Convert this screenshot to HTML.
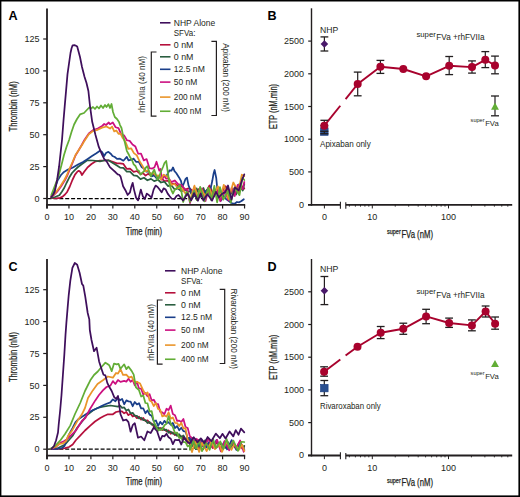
<!DOCTYPE html>
<html><head><meta charset="utf-8"><style>
html,body{margin:0;padding:0;background:#fff;}
svg{display:block;}
</style></head><body>
<svg width="520" height="497" viewBox="0 0 520 497" font-family='"Liberation Sans", sans-serif'>
<rect x="0" y="0" width="520" height="497" fill="#ffffff"/>
<text x="8.50" y="19.70" font-size="12.6" text-anchor="start" fill="#000" font-weight="bold" >A</text>
<line x1="47.50" y1="198.60" x2="205.00" y2="198.60" stroke="#000" stroke-width="1.3" stroke-dasharray="4 1.9"/>
<polyline points="51.30,198.00 56.50,198.40 60.00,197.80 62.30,196.90 65.00,194.50 66.90,192.30 69.80,186.50 72.40,180.00 75.00,174.60 77.50,171.50 78.80,170.80 80.50,172.00 82.00,175.00 84.00,172.00 87.30,167.70 91.50,164.00 95.70,161.30 100.00,160.70 104.00,160.50 108.40,160.30 112.00,161.50 116.90,163.40 120.00,163.28 123.40,163.90 126.80,168.94 130.00,168.61 133.70,171.93 137.00,171.00 140.50,174.21 143.00,173.08 145.60,175.61 148.00,173.85 150.80,175.12 154.00,174.72 157.60,177.39 161.00,177.51 164.40,181.00 168.00,180.85 171.30,183.85 174.70,183.54 178.10,186.40 181.50,185.36 185.00,189.68 188.00,188.48 190.00,188.67 194.57,192.37 199.73,188.43 204.64,194.31 209.50,185.46 212.88,193.39 217.38,187.99 220.81,193.23 225.67,186.26 230.38,193.44 235.40,186.74 238.76,192.54 242.56,186.35 244.30,188.60" fill="none" stroke="#b5103c" stroke-width="1.75" stroke-linejoin="round" stroke-linecap="round" />
<polyline points="51.30,197.80 55.00,197.00 59.40,195.20 62.00,191.50 64.00,188.30 66.50,183.00 69.10,177.80 72.00,173.00 75.00,169.80 78.00,167.00 82.00,164.00 87.30,160.30 93.00,160.50 100.00,161.30 104.00,160.50 108.40,160.30 112.00,162.50 116.90,165.50 120.00,167.56 123.40,167.94 126.80,171.74 130.00,171.60 133.70,175.30 137.00,175.96 140.50,179.16 144.00,177.74 147.40,180.29 151.00,178.85 154.20,181.16 158.00,179.77 161.00,182.51 164.50,181.67 167.90,186.09 171.30,185.17 174.70,189.51 178.00,188.53 181.50,191.28 185.00,189.50 187.50,191.87 190.00,191.19 193.00,197.23 196.61,188.34 200.20,197.03 203.45,187.96 206.14,195.95 209.56,190.20 213.92,196.38 218.38,187.47 221.61,199.05 226.12,189.00 228.84,197.72 232.93,190.13 236.10,194.58 239.35,183.93 242.80,190.55 244.30,184.00" fill="none" stroke="#2a5e40" stroke-width="1.75" stroke-linejoin="round" stroke-linecap="round" />
<polyline points="51.30,196.50 52.50,194.60 55.00,188.00 57.70,180.30 61.00,175.00 64.00,171.90 68.00,169.50 72.50,167.70 78.00,164.50 83.00,162.00 87.30,159.20 92.00,156.00 96.00,153.50 100.00,150.70 102.00,152.00 104.20,156.00 106.00,153.00 108.40,151.80 111.00,154.00 112.50,156.00 114.80,157.00 117.00,158.90 120.00,158.68 123.40,160.72 126.80,156.88 128.50,160.46 130.30,159.81 132.00,159.53 133.70,158.65 136.00,161.77 138.80,161.88 141.50,166.95 143.90,168.46 146.50,171.62 149.00,171.75 151.50,176.41 154.20,175.35 156.70,178.37 159.30,176.92 162.00,178.40 164.40,175.72 166.50,175.88 169.60,170.29 171.50,170.60 173.00,167.43 174.50,171.19 176.20,173.00 179.20,177.70 181.00,181.00 182.30,187.00 184.00,183.00 185.40,179.20 187.00,177.70 188.50,185.40 190.00,189.00 191.50,193.00 194.60,196.00 197.50,196.00 200.80,194.60 203.50,193.00 207.00,190.00 210.00,191.50 212.30,180.80 213.50,174.00 214.60,170.00 216.20,177.70 217.70,193.00 219.00,198.00 220.80,200.80 223.80,196.00 226.00,199.00 228.50,200.80 231.50,203.00 234.60,203.80 237.00,202.00 239.20,202.30 241.50,201.00 243.80,199.20" fill="none" stroke="#1a3f8a" stroke-width="1.75" stroke-linejoin="round" stroke-linecap="round" />
<polyline points="51.30,196.40 53.50,195.50 57.00,192.00 61.00,186.50 65.00,180.00 67.50,175.00 70.00,169.00 72.50,163.00 75.50,155.50 78.80,150.00 82.00,144.50 84.40,140.00 88.80,133.50 93.30,130.00 97.70,128.50 102.10,126.00 104.20,124.00 106.00,125.00 108.80,122.50 110.00,124.14 112.80,122.50 115.60,127.27 118.50,128.20 121.30,134.68 124.10,135.41 126.90,140.26 129.70,140.91 132.50,144.53 135.40,146.57 138.20,153.75 141.00,153.59 143.80,160.40 146.60,159.07 149.40,168.08 152.30,168.51 154.50,167.19 156.50,161.75 159.30,170.67 160.50,168.90 162.00,179.92 164.00,175.26 166.20,178.65 168.80,178.50 171.30,182.10 174.70,180.46 178.10,184.15 181.50,185.08 185.00,189.62 187.50,190.00 190.00,203.12 194.26,187.21 197.62,198.95 202.07,188.49 205.51,200.99 209.17,187.70 212.17,198.43 217.01,189.70 220.35,201.26 224.56,190.60 228.58,200.33 231.70,187.82 234.71,196.07 237.64,184.97 242.66,189.13 244.30,182.00" fill="none" stroke="#cc1080" stroke-width="1.75" stroke-linejoin="round" stroke-linecap="round" />
<polyline points="51.30,196.40 53.50,195.00 56.50,191.50 60.50,186.00 64.30,180.00 66.90,175.00 69.50,168.50 72.50,162.00 75.50,155.00 78.80,150.00 82.00,145.00 84.40,140.90 88.80,134.20 93.30,130.90 97.70,129.80 102.10,127.60 106.50,126.50 110.00,128.61 112.10,126.56 114.20,131.36 116.35,130.45 118.50,133.79 120.60,133.58 122.70,138.01 125.50,141.70 128.30,148.78 131.10,148.30 133.90,153.12 136.80,155.39 139.60,161.27 142.40,165.65 145.20,171.43 148.00,170.43 150.80,174.19 153.00,172.53 155.90,175.69 158.50,175.39 161.00,179.63 163.50,174.72 166.20,176.07 168.50,177.68 171.30,184.96 174.50,184.00 178.10,188.20 181.50,188.00 185.00,193.06 187.50,192.63 190.00,200.30 194.44,185.67 197.69,196.81 200.84,188.76 205.40,196.09 209.48,188.60 212.98,197.47 217.80,186.34 220.63,196.47 223.78,184.82 228.53,199.03 233.31,182.49 238.39,191.74 241.80,174.66 244.30,176.00" fill="none" stroke="#ea952a" stroke-width="1.75" stroke-linejoin="round" stroke-linecap="round" />
<polyline points="51.30,195.00 54.00,188.00 57.10,180.00 58.80,175.00 61.50,165.00 64.00,155.00 66.50,147.00 69.10,140.00 71.50,132.00 74.10,124.50 77.00,119.00 80.00,114.40 84.00,113.00 87.30,109.50 89.40,107.40 91.00,108.50 93.00,107.00 95.00,109.00 97.00,106.50 99.00,108.50 101.00,105.50 103.00,108.00 105.00,105.00 106.50,107.00 108.40,104.20 110.00,108.00 111.50,104.00 113.00,112.00 114.80,117.00 117.00,119.00 119.00,122.00 120.00,125.10 121.50,128.00 123.40,137.10 125.00,143.00 126.80,150.80 128.50,154.00 130.30,157.60 132.00,160.00 133.70,164.40 135.50,166.00 137.10,169.60 139.00,171.00 140.50,174.70 142.00,173.00 143.90,171.30 145.50,168.00 147.40,166.20 149.00,171.00 150.80,176.40 152.50,173.00 154.20,169.60 156.00,175.00 157.60,179.80 159.50,176.00 161.00,171.30 163.00,167.00 164.50,163.00 166.20,161.00 167.50,170.00 169.60,185.00 171.30,190.00 173.00,193.50 174.60,190.00 176.40,188.40 178.00,187.00 179.80,185.00 181.50,192.00 183.20,202.00 185.00,197.00 186.70,191.80 188.50,194.00 190.00,202.00 194.18,190.92 196.86,200.18 200.15,186.87 204.38,201.33 208.32,187.55 211.31,200.22 214.34,185.97 217.13,202.29 219.96,187.12 223.39,199.72 227.97,190.84 230.77,202.53 234.59,187.73 239.50,195.19 242.42,177.96 244.30,180.00" fill="none" stroke="#62ad36" stroke-width="1.75" stroke-linejoin="round" stroke-linecap="round" />
<polyline points="51.30,197.00 53.00,195.00 54.80,191.70 57.10,180.00 59.10,166.50 62.00,140.00 63.50,120.50 64.70,106.40 66.10,90.30 67.50,74.20 69.50,60.00 70.50,53.00 71.50,48.50 72.60,45.30 74.50,45.20 75.50,45.50 77.20,46.50 80.00,57.00 82.00,67.00 84.50,76.70 86.50,83.00 88.40,91.00 90.00,106.00 92.20,121.82 95.50,135.06 98.80,146.94 102.10,154.68 104.30,159.04 106.50,161.16 109.90,167.14 113.20,170.17 115.60,172.28 117.70,174.35 119.20,174.74 120.60,176.63 123.10,186.29 125.40,190.21 127.60,194.99 130.00,192.30 131.30,186.90 132.70,182.90 134.00,189.60 136.10,197.70 138.10,200.40 140.80,189.60 142.80,196.30 144.80,199.00 146.80,193.60 148.80,195.00 151.50,197.70 153.60,189.60 155.60,185.60 157.60,186.90 159.60,189.60 161.60,192.30 163.60,188.30 165.70,189.60 167.70,193.60 169.50,196.00 171.50,198.50 174.40,199.00 176.50,196.00 178.50,195.00 181.80,199.00 183.00,200.57 187.52,193.55 191.13,200.33 194.05,193.14 197.93,200.72 200.66,193.54 203.37,200.55 207.39,194.12 212.03,200.70 215.96,191.90 218.82,197.34 222.49,193.44 225.42,191.93 228.00,185.47 231.47,199.51 235.11,187.28 238.71,190.51 242.22,179.57 244.30,174.30" fill="none" stroke="#3f0f5c" stroke-width="1.75" stroke-linejoin="round" stroke-linecap="round" />
<line x1="47.00" y1="8.40" x2="47.00" y2="208.50" stroke="#231f20" stroke-width="1.8" />
<line x1="46.10" y1="204.90" x2="245.20" y2="204.90" stroke="#231f20" stroke-width="1.9" />
<line x1="43.20" y1="198.50" x2="47.00" y2="198.50" stroke="#231f20" stroke-width="1.2" />
<text x="39.60" y="201.60" font-size="9.0" text-anchor="end" fill="#231f20" >0</text>
<line x1="43.20" y1="166.60" x2="47.00" y2="166.60" stroke="#231f20" stroke-width="1.2" />
<text x="39.60" y="169.70" font-size="9.0" text-anchor="end" fill="#231f20" >25</text>
<line x1="43.20" y1="134.70" x2="47.00" y2="134.70" stroke="#231f20" stroke-width="1.2" />
<text x="39.60" y="137.80" font-size="9.0" text-anchor="end" fill="#231f20" >50</text>
<line x1="43.20" y1="102.80" x2="47.00" y2="102.80" stroke="#231f20" stroke-width="1.2" />
<text x="39.60" y="105.90" font-size="9.0" text-anchor="end" fill="#231f20" >75</text>
<line x1="43.20" y1="70.90" x2="47.00" y2="70.90" stroke="#231f20" stroke-width="1.2" />
<text x="39.60" y="74.00" font-size="9.0" text-anchor="end" fill="#231f20" >100</text>
<line x1="43.20" y1="39.00" x2="47.00" y2="39.00" stroke="#231f20" stroke-width="1.2" />
<text x="39.60" y="42.10" font-size="9.0" text-anchor="end" fill="#231f20" >125</text>
<line x1="47.00" y1="204.90" x2="47.00" y2="208.50" stroke="#231f20" stroke-width="1.2" />
<text x="47.00" y="219.80" font-size="9.0" text-anchor="middle" fill="#231f20" >0</text>
<line x1="68.95" y1="204.90" x2="68.95" y2="208.50" stroke="#231f20" stroke-width="1.2" />
<text x="68.95" y="219.80" font-size="9.0" text-anchor="middle" fill="#231f20" >10</text>
<line x1="90.90" y1="204.90" x2="90.90" y2="208.50" stroke="#231f20" stroke-width="1.2" />
<text x="90.90" y="219.80" font-size="9.0" text-anchor="middle" fill="#231f20" >20</text>
<line x1="112.85" y1="204.90" x2="112.85" y2="208.50" stroke="#231f20" stroke-width="1.2" />
<text x="112.85" y="219.80" font-size="9.0" text-anchor="middle" fill="#231f20" >30</text>
<line x1="134.80" y1="204.90" x2="134.80" y2="208.50" stroke="#231f20" stroke-width="1.2" />
<text x="134.80" y="219.80" font-size="9.0" text-anchor="middle" fill="#231f20" >40</text>
<line x1="156.75" y1="204.90" x2="156.75" y2="208.50" stroke="#231f20" stroke-width="1.2" />
<text x="156.75" y="219.80" font-size="9.0" text-anchor="middle" fill="#231f20" >50</text>
<line x1="178.70" y1="204.90" x2="178.70" y2="208.50" stroke="#231f20" stroke-width="1.2" />
<text x="178.70" y="219.80" font-size="9.0" text-anchor="middle" fill="#231f20" >60</text>
<line x1="200.65" y1="204.90" x2="200.65" y2="208.50" stroke="#231f20" stroke-width="1.2" />
<text x="200.65" y="219.80" font-size="9.0" text-anchor="middle" fill="#231f20" >70</text>
<line x1="222.60" y1="204.90" x2="222.60" y2="208.50" stroke="#231f20" stroke-width="1.2" />
<text x="222.60" y="219.80" font-size="9.0" text-anchor="middle" fill="#231f20" >80</text>
<line x1="244.55" y1="204.90" x2="244.55" y2="208.50" stroke="#231f20" stroke-width="1.2" />
<text x="244.55" y="219.80" font-size="9.0" text-anchor="middle" fill="#231f20" >90</text>
<text x="144.00" y="234.70" font-size="10.5" text-anchor="middle" fill="#231f20" textLength="36.30" lengthAdjust="spacingAndGlyphs" stroke="#231f20" stroke-width="0.25">Time (min)</text>
<text x="17.30" y="131.40" font-size="10.8" text-anchor="start" fill="#231f20" textLength="50.10" lengthAdjust="spacingAndGlyphs" transform="rotate(-90 17.30 131.40)" stroke="#231f20" stroke-width="0.25">Thrombin (nM)</text>
<line x1="160.00" y1="22.80" x2="170.50" y2="22.80" stroke="#3f0f5c" stroke-width="1.6" />
<text x="173.80" y="25.70" font-size="8.6" text-anchor="start" fill="#231f20" textLength="41.40" lengthAdjust="spacingAndGlyphs" >NHP Alone</text>
<line x1="160.00" y1="44.80" x2="170.50" y2="44.80" stroke="#b5103c" stroke-width="1.6" />
<text x="173.80" y="47.70" font-size="8.6" text-anchor="start" fill="#231f20" textLength="19.60" lengthAdjust="spacingAndGlyphs" >0 nM</text>
<line x1="160.00" y1="56.80" x2="170.50" y2="56.80" stroke="#2a5e40" stroke-width="1.6" />
<text x="173.80" y="59.70" font-size="8.6" text-anchor="start" fill="#231f20" textLength="19.60" lengthAdjust="spacingAndGlyphs" >0 nM</text>
<line x1="160.00" y1="69.30" x2="170.50" y2="69.30" stroke="#1a3f8a" stroke-width="1.6" />
<text x="173.80" y="72.20" font-size="8.6" text-anchor="start" fill="#231f20" textLength="31.00" lengthAdjust="spacingAndGlyphs" >12.5 nM</text>
<line x1="160.00" y1="82.10" x2="170.50" y2="82.10" stroke="#cc1080" stroke-width="1.6" />
<text x="173.80" y="85.00" font-size="8.6" text-anchor="start" fill="#231f20" textLength="23.50" lengthAdjust="spacingAndGlyphs" >50 nM</text>
<line x1="160.00" y1="97.10" x2="170.50" y2="97.10" stroke="#ea952a" stroke-width="1.6" />
<text x="173.80" y="100.00" font-size="8.6" text-anchor="start" fill="#231f20" textLength="27.50" lengthAdjust="spacingAndGlyphs" >200 nM</text>
<line x1="160.00" y1="111.25" x2="170.50" y2="111.25" stroke="#62ad36" stroke-width="1.6" />
<text x="173.80" y="114.15" font-size="8.6" text-anchor="start" fill="#231f20" textLength="27.50" lengthAdjust="spacingAndGlyphs" >400 nM</text>
<text x="173.80" y="36.20" font-size="8.6" text-anchor="start" fill="#231f20" textLength="21.60" lengthAdjust="spacingAndGlyphs" >SFVa:</text>
<polyline points="156.50,52.00 151.30,52.00 151.30,116.20 156.50,116.20" fill="none" stroke="#231f20" stroke-width="1.2"/>
<polyline points="211.40,41.30 216.40,41.30 216.40,115.50 211.40,115.50" fill="none" stroke="#231f20" stroke-width="1.2"/>
<text x="144.90" y="112.70" font-size="8.6" text-anchor="start" fill="#231f20" textLength="56.70" lengthAdjust="spacingAndGlyphs" transform="rotate(-90 144.90 112.70)" >rhFVIIa (40 nM)</text>
<text x="223.00" y="43.20" font-size="8.6" text-anchor="start" fill="#231f20" textLength="68.80" lengthAdjust="spacingAndGlyphs" transform="rotate(90 223.00 43.20)" >Apixaban (200 nM)</text>
<text x="8.40" y="270.60" font-size="12.6" text-anchor="start" fill="#000" font-weight="bold" >C</text>
<line x1="47.50" y1="449.10" x2="204.00" y2="449.10" stroke="#000" stroke-width="1.3" stroke-dasharray="4 1.9"/>
<polyline points="50.50,449.00 52.00,449.00 58.00,449.00 65.10,448.20 69.00,447.00 72.70,444.50 76.00,440.00 80.20,435.70 85.00,430.50 90.30,425.60 95.00,421.50 100.30,418.00 104.00,416.00 107.90,414.30 112.90,414.30 116.00,412.00 119.20,411.35 122.00,411.31 124.15,413.32 126.30,411.99 128.43,415.16 130.57,413.63 132.70,416.53 134.80,415.38 136.90,418.18 139.00,416.64 141.13,419.67 143.27,417.96 145.40,421.13 147.50,420.29 149.60,423.21 151.70,423.39 153.83,426.61 155.97,426.17 158.10,429.34 160.20,427.80 162.30,430.11 164.40,429.03 166.50,431.48 168.60,430.34 170.70,433.73 172.83,432.46 174.97,435.08 177.10,433.38 179.20,436.58 181.30,436.25 183.40,439.38 185.53,438.79 187.67,442.77 189.80,441.52 190.00,448.97 194.85,441.78 199.31,448.39 201.97,442.57 205.19,448.17 208.84,442.85 212.74,447.96 217.28,442.05 220.73,448.63 225.42,443.54 228.36,448.07 232.76,443.37 235.84,448.68 239.24,442.67 242.29,448.54 244.30,446.00" fill="none" stroke="#b5103c" stroke-width="1.75" stroke-linejoin="round" stroke-linecap="round" />
<polyline points="50.50,449.00 52.00,449.00 58.00,448.00 65.10,444.50 69.00,440.00 72.70,435.70 77.00,428.00 82.70,420.60 87.00,415.00 92.80,410.50 97.50,408.00 102.90,406.70 110.40,405.50 118.00,406.62 120.00,405.52 122.10,407.81 124.20,407.45 126.30,410.42 128.43,409.44 130.57,413.39 132.70,412.86 134.80,415.73 136.90,415.79 139.00,418.38 141.13,417.75 143.27,420.24 145.40,420.14 147.50,423.00 149.60,421.91 151.70,424.68 153.83,424.33 155.97,428.10 158.10,427.74 160.20,429.86 162.30,427.75 164.40,430.11 166.50,429.72 168.60,432.82 170.70,431.60 172.83,433.68 174.97,433.32 177.10,435.94 179.20,434.22 181.30,437.30 183.40,435.48 185.53,439.11 187.67,438.03 189.80,441.75 190.00,439.20 194.13,448.26 197.27,439.87 201.02,448.17 205.17,440.27 208.28,447.32 212.35,441.54 216.49,447.62 221.07,443.54 225.15,447.97 227.73,441.85 230.36,447.76 233.58,443.58 236.45,447.51 240.80,444.06 243.67,447.79 244.30,446.00" fill="none" stroke="#2a5e40" stroke-width="1.75" stroke-linejoin="round" stroke-linecap="round" />
<polyline points="51.30,449.00 57.00,448.80 62.00,448.00 64.50,446.00 66.00,441.90 68.90,434.60 72.50,428.10 75.40,422.30 78.00,419.50 81.20,417.20 84.00,415.50 87.80,413.00 93.00,410.00 97.80,408.00 101.50,406.00 105.40,404.20 110.40,402.42 112.90,399.32 115.40,401.28 118.00,398.13 120.00,400.29 122.10,398.87 124.20,404.26 126.35,400.37 128.50,401.39 130.60,401.52 132.70,406.23 134.80,401.98 136.90,404.40 139.00,403.18 141.10,408.43 143.25,408.27 145.40,413.27 147.50,410.43 149.60,414.64 151.70,415.79 153.80,421.25 155.95,420.48 158.10,425.85 160.20,421.87 162.30,424.34 164.40,420.85 166.50,423.14 168.60,422.21 170.70,424.75 172.85,422.94 175.00,428.05 177.10,426.03 179.20,430.23 181.30,427.79 183.40,431.12 185.55,431.52 187.70,438.26 189.80,437.75 191.90,444.71 192.00,437.81 196.58,448.87 201.25,440.01 206.08,447.57 209.44,441.54 213.26,446.93 216.55,439.93 220.98,449.71 223.83,442.50 227.08,449.28 231.65,440.07 236.44,449.96 240.55,442.56 243.93,448.90 244.30,450.00" fill="none" stroke="#1a3f8a" stroke-width="1.75" stroke-linejoin="round" stroke-linecap="round" />
<polyline points="51.30,449.00 55.00,447.50 60.90,442.50 63.80,441.20 67.40,439.00 71.00,435.40 76.10,430.30 81.90,421.00 85.30,418.00 90.00,409.00 95.30,400.40 99.00,395.00 102.90,390.40 106.50,387.00 110.40,385.62 112.90,381.08 115.40,383.95 117.95,380.05 120.50,381.89 124.20,380.87 126.35,381.64 128.50,378.80 130.60,381.72 132.70,379.99 134.80,385.33 136.90,381.76 139.00,388.47 141.10,388.68 143.25,394.34 145.40,393.03 147.50,396.36 149.60,394.19 151.70,400.50 153.80,399.72 155.95,403.76 158.10,404.05 160.20,411.73 162.30,412.42 164.40,414.27 166.50,408.76 168.60,410.04 170.70,405.62 172.85,414.05 175.00,415.25 177.10,420.92 179.20,420.65 181.30,422.08 183.40,418.93 185.55,427.06 187.70,428.03 189.80,436.12 191.90,437.95 194.00,441.93 196.10,438.78 200.00,441.02 204.40,447.65 208.44,438.34 213.05,447.66 217.09,439.89 220.79,451.30 224.56,440.96 229.24,450.29 232.50,441.90 236.19,448.14 240.13,440.44 243.67,451.84 244.30,450.00" fill="none" stroke="#cc1080" stroke-width="1.75" stroke-linejoin="round" stroke-linecap="round" />
<polyline points="51.30,448.50 56.00,446.50 59.40,443.80 63.10,443.30 66.00,441.20 67.40,437.50 68.90,434.60 71.80,431.00 74.70,425.90 78.30,419.40 81.90,414.30 85.00,408.00 88.00,398.00 92.80,390.40 97.50,384.00 102.90,380.30 107.90,376.50 112.90,377.68 116.00,372.96 118.00,373.66 120.50,369.01 123.00,374.84 126.30,374.66 128.95,377.65 131.60,376.58 134.25,381.89 136.90,381.83 140.10,383.58 143.30,390.53 145.40,394.30 147.50,392.34 149.60,400.61 151.70,401.83 153.80,406.09 155.90,403.07 158.05,409.00 160.20,409.89 162.30,416.40 164.40,415.43 166.50,416.56 168.60,412.26 170.75,418.62 172.90,417.46 175.00,422.78 177.10,423.13 179.20,425.98 181.30,422.75 183.40,428.52 185.50,428.11 187.65,439.67 189.80,443.27 192.00,452.11 195.35,441.39 199.14,451.91 202.03,442.92 206.61,451.14 211.43,441.46 214.93,449.10 219.32,444.41 222.00,451.95 226.58,441.64 231.41,449.89 234.26,444.43 239.15,449.54 242.17,444.82 244.30,451.00" fill="none" stroke="#ea952a" stroke-width="1.75" stroke-linejoin="round" stroke-linecap="round" />
<polyline points="50.50,449.00 51.30,448.20 55.00,446.00 60.10,440.70 65.00,434.00 70.20,425.60 75.00,414.00 80.20,403.00 85.00,391.00 90.30,380.30 94.00,375.00 97.80,371.50 101.50,367.00 105.40,362.70 107.50,364.00 109.20,365.20 111.70,371.21 114.00,363.61 116.70,364.41 118.50,363.84 120.50,368.80 124.20,364.31 126.35,369.15 128.50,366.69 131.60,370.87 133.70,374.56 135.90,387.26 139.00,390.19 141.15,396.54 143.30,395.55 145.40,403.01 147.50,403.39 149.60,411.55 151.70,411.11 153.80,421.68 155.90,425.84 158.05,430.77 160.20,429.32 162.30,429.70 164.40,425.26 166.50,423.88 168.60,416.07 170.75,423.85 172.90,427.10 175.00,432.97 177.10,432.57 179.20,437.88 181.30,437.90 183.40,442.22 185.50,442.16 187.65,446.43 189.80,445.12 190.00,449.78 193.37,440.77 196.19,448.64 199.21,440.35 202.05,451.18 206.00,442.85 209.67,449.80 213.09,439.09 215.81,447.88 220.36,441.46 223.31,449.05 226.61,439.01 229.59,448.46 233.37,440.61 237.95,450.93 241.24,441.91 244.30,442.00" fill="none" stroke="#62ad36" stroke-width="1.75" stroke-linejoin="round" stroke-linecap="round" />
<polyline points="51.30,449.00 54.00,446.00 56.10,440.20 58.00,432.50 58.70,424.50 60.20,410.00 61.50,395.00 62.90,375.00 64.30,355.00 65.50,335.00 66.40,322.60 67.60,308.10 68.70,295.30 70.30,280.80 72.40,267.90 74.80,263.00 77.20,264.70 79.60,272.70 82.00,284.00 83.30,285.60 85.30,296.90 87.70,313.00 89.30,319.40 89.80,330.00 91.50,340.00 94.00,351.19 96.60,347.70 99.10,361.44 101.60,369.22 103.50,374.72 105.40,375.35 107.30,382.86 109.20,386.71 111.70,391.03 114.20,397.16 116.10,398.87 118.00,395.95 120.50,414.27 123.20,420.53 126.30,419.58 128.45,422.14 130.60,431.69 132.70,425.18 134.80,423.23 138.00,437.70 141.10,436.54 144.30,440.25 147.50,431.42 150.70,433.04 153.80,427.54 157.00,431.02 160.20,440.47 162.30,435.77 164.40,436.38 166.50,433.77 168.60,437.35 170.75,438.78 172.90,444.11 175.00,439.76 177.10,440.16 179.20,439.95 181.30,444.51 184.00,437.17 186.00,440.26 189.64,443.59 193.72,437.26 197.39,442.36 200.85,438.32 204.62,442.96 207.58,437.02 211.46,441.06 215.79,433.58 219.89,438.20 222.42,433.83 225.54,438.49 229.60,431.46 233.29,436.36 235.74,430.14 238.55,434.74 240.95,428.60 244.30,432.30" fill="none" stroke="#3f0f5c" stroke-width="1.75" stroke-linejoin="round" stroke-linecap="round" />
<line x1="47.00" y1="259.10" x2="47.00" y2="459.20" stroke="#231f20" stroke-width="1.8" />
<line x1="46.10" y1="455.60" x2="245.20" y2="455.60" stroke="#231f20" stroke-width="1.9" />
<line x1="43.20" y1="449.20" x2="47.00" y2="449.20" stroke="#231f20" stroke-width="1.2" />
<text x="39.60" y="452.30" font-size="9.0" text-anchor="end" fill="#231f20" >0</text>
<line x1="43.20" y1="417.30" x2="47.00" y2="417.30" stroke="#231f20" stroke-width="1.2" />
<text x="39.60" y="420.40" font-size="9.0" text-anchor="end" fill="#231f20" >25</text>
<line x1="43.20" y1="385.40" x2="47.00" y2="385.40" stroke="#231f20" stroke-width="1.2" />
<text x="39.60" y="388.50" font-size="9.0" text-anchor="end" fill="#231f20" >50</text>
<line x1="43.20" y1="353.50" x2="47.00" y2="353.50" stroke="#231f20" stroke-width="1.2" />
<text x="39.60" y="356.60" font-size="9.0" text-anchor="end" fill="#231f20" >75</text>
<line x1="43.20" y1="321.60" x2="47.00" y2="321.60" stroke="#231f20" stroke-width="1.2" />
<text x="39.60" y="324.70" font-size="9.0" text-anchor="end" fill="#231f20" >100</text>
<line x1="43.20" y1="289.70" x2="47.00" y2="289.70" stroke="#231f20" stroke-width="1.2" />
<text x="39.60" y="292.80" font-size="9.0" text-anchor="end" fill="#231f20" >125</text>
<line x1="47.00" y1="455.60" x2="47.00" y2="459.20" stroke="#231f20" stroke-width="1.2" />
<text x="47.00" y="470.50" font-size="9.0" text-anchor="middle" fill="#231f20" >0</text>
<line x1="68.95" y1="455.60" x2="68.95" y2="459.20" stroke="#231f20" stroke-width="1.2" />
<text x="68.95" y="470.50" font-size="9.0" text-anchor="middle" fill="#231f20" >10</text>
<line x1="90.90" y1="455.60" x2="90.90" y2="459.20" stroke="#231f20" stroke-width="1.2" />
<text x="90.90" y="470.50" font-size="9.0" text-anchor="middle" fill="#231f20" >20</text>
<line x1="112.85" y1="455.60" x2="112.85" y2="459.20" stroke="#231f20" stroke-width="1.2" />
<text x="112.85" y="470.50" font-size="9.0" text-anchor="middle" fill="#231f20" >30</text>
<line x1="134.80" y1="455.60" x2="134.80" y2="459.20" stroke="#231f20" stroke-width="1.2" />
<text x="134.80" y="470.50" font-size="9.0" text-anchor="middle" fill="#231f20" >40</text>
<line x1="156.75" y1="455.60" x2="156.75" y2="459.20" stroke="#231f20" stroke-width="1.2" />
<text x="156.75" y="470.50" font-size="9.0" text-anchor="middle" fill="#231f20" >50</text>
<line x1="178.70" y1="455.60" x2="178.70" y2="459.20" stroke="#231f20" stroke-width="1.2" />
<text x="178.70" y="470.50" font-size="9.0" text-anchor="middle" fill="#231f20" >60</text>
<line x1="200.65" y1="455.60" x2="200.65" y2="459.20" stroke="#231f20" stroke-width="1.2" />
<text x="200.65" y="470.50" font-size="9.0" text-anchor="middle" fill="#231f20" >70</text>
<line x1="222.60" y1="455.60" x2="222.60" y2="459.20" stroke="#231f20" stroke-width="1.2" />
<text x="222.60" y="470.50" font-size="9.0" text-anchor="middle" fill="#231f20" >80</text>
<line x1="244.55" y1="455.60" x2="244.55" y2="459.20" stroke="#231f20" stroke-width="1.2" />
<text x="244.55" y="470.50" font-size="9.0" text-anchor="middle" fill="#231f20" >90</text>
<text x="144.00" y="485.40" font-size="10.5" text-anchor="middle" fill="#231f20" textLength="36.30" lengthAdjust="spacingAndGlyphs" stroke="#231f20" stroke-width="0.25">Time (min)</text>
<text x="17.30" y="382.10" font-size="10.8" text-anchor="start" fill="#231f20" textLength="50.10" lengthAdjust="spacingAndGlyphs" transform="rotate(-90 17.30 382.10)" stroke="#231f20" stroke-width="0.25">Thrombin (nM)</text>
<line x1="165.00" y1="270.80" x2="175.50" y2="270.80" stroke="#3f0f5c" stroke-width="1.6" />
<text x="181.10" y="273.70" font-size="8.6" text-anchor="start" fill="#231f20" textLength="41.40" lengthAdjust="spacingAndGlyphs" >NHP Alone</text>
<line x1="165.00" y1="292.80" x2="175.50" y2="292.80" stroke="#b5103c" stroke-width="1.6" />
<text x="181.10" y="295.70" font-size="8.6" text-anchor="start" fill="#231f20" textLength="19.60" lengthAdjust="spacingAndGlyphs" >0 nM</text>
<line x1="165.00" y1="304.80" x2="175.50" y2="304.80" stroke="#2a5e40" stroke-width="1.6" />
<text x="181.10" y="307.70" font-size="8.6" text-anchor="start" fill="#231f20" textLength="19.60" lengthAdjust="spacingAndGlyphs" >0 nM</text>
<line x1="165.00" y1="317.30" x2="175.50" y2="317.30" stroke="#1a3f8a" stroke-width="1.6" />
<text x="181.10" y="320.20" font-size="8.6" text-anchor="start" fill="#231f20" textLength="31.00" lengthAdjust="spacingAndGlyphs" >12.5 nM</text>
<line x1="165.00" y1="330.10" x2="175.50" y2="330.10" stroke="#cc1080" stroke-width="1.6" />
<text x="181.10" y="333.00" font-size="8.6" text-anchor="start" fill="#231f20" textLength="23.50" lengthAdjust="spacingAndGlyphs" >50 nM</text>
<line x1="165.00" y1="345.10" x2="175.50" y2="345.10" stroke="#ea952a" stroke-width="1.6" />
<text x="181.10" y="348.00" font-size="8.6" text-anchor="start" fill="#231f20" textLength="27.50" lengthAdjust="spacingAndGlyphs" >200 nM</text>
<line x1="165.00" y1="359.25" x2="175.50" y2="359.25" stroke="#62ad36" stroke-width="1.6" />
<text x="181.10" y="362.15" font-size="8.6" text-anchor="start" fill="#231f20" textLength="27.50" lengthAdjust="spacingAndGlyphs" >400 nM</text>
<text x="181.10" y="284.20" font-size="8.6" text-anchor="start" fill="#231f20" textLength="21.60" lengthAdjust="spacingAndGlyphs" >SFVa:</text>
<polyline points="162.60,300.00 157.40,300.00 157.40,364.20 162.60,364.20" fill="none" stroke="#231f20" stroke-width="1.2"/>
<polyline points="219.70,289.30 224.70,289.30 224.70,363.50 219.70,363.50" fill="none" stroke="#231f20" stroke-width="1.2"/>
<text x="154.00" y="360.70" font-size="8.6" text-anchor="start" fill="#231f20" textLength="56.70" lengthAdjust="spacingAndGlyphs" transform="rotate(-90 154.00 360.70)" >rhFVIIa (40 nM)</text>
<text x="230.60" y="288.60" font-size="8.6" text-anchor="start" fill="#231f20" textLength="80.30" lengthAdjust="spacingAndGlyphs" transform="rotate(90 230.60 288.60)" >Rivaroxaban (200 nM)</text>
<text x="267.40" y="19.60" font-size="12.6" text-anchor="start" fill="#000" font-weight="bold" >B</text>
<line x1="311.50" y1="8.30" x2="311.50" y2="205.75" stroke="#231f20" stroke-width="1.4" />
<line x1="308.20" y1="204.60" x2="311.50" y2="204.60" stroke="#231f20" stroke-width="1.2" />
<text x="304.00" y="207.70" font-size="9.0" text-anchor="end" fill="#231f20" >0</text>
<line x1="308.20" y1="171.90" x2="311.50" y2="171.90" stroke="#231f20" stroke-width="1.2" />
<text x="304.00" y="175.00" font-size="9.0" text-anchor="end" fill="#231f20" >500</text>
<line x1="308.20" y1="139.20" x2="311.50" y2="139.20" stroke="#231f20" stroke-width="1.2" />
<text x="304.00" y="142.30" font-size="9.0" text-anchor="end" fill="#231f20" >1000</text>
<line x1="308.20" y1="106.50" x2="311.50" y2="106.50" stroke="#231f20" stroke-width="1.2" />
<text x="304.00" y="109.60" font-size="9.0" text-anchor="end" fill="#231f20" >1500</text>
<line x1="308.20" y1="73.80" x2="311.50" y2="73.80" stroke="#231f20" stroke-width="1.2" />
<text x="304.00" y="76.90" font-size="9.0" text-anchor="end" fill="#231f20" >2000</text>
<line x1="308.20" y1="41.10" x2="311.50" y2="41.10" stroke="#231f20" stroke-width="1.2" />
<text x="304.00" y="44.20" font-size="9.0" text-anchor="end" fill="#231f20" >2500</text>
<line x1="308.00" y1="204.85" x2="340.40" y2="204.85" stroke="#231f20" stroke-width="1.9" />
<line x1="340.40" y1="201.65" x2="340.40" y2="208.65" stroke="#231f20" stroke-width="1.1" />
<line x1="324.40" y1="204.85" x2="324.40" y2="208.45" stroke="#231f20" stroke-width="1" />
<text x="324.40" y="219.80" font-size="9.0" text-anchor="middle" fill="#231f20" >0</text>
<line x1="345.80" y1="204.85" x2="512.20" y2="204.85" stroke="#231f20" stroke-width="1.9" />
<line x1="345.80" y1="202.25" x2="345.80" y2="208.65" stroke="#231f20" stroke-width="1.1" />
<line x1="349.36" y1="204.85" x2="349.36" y2="206.65" stroke="#231f20" stroke-width="0.9" />
<line x1="355.40" y1="204.85" x2="355.40" y2="206.65" stroke="#231f20" stroke-width="0.9" />
<line x1="360.50" y1="204.85" x2="360.50" y2="206.65" stroke="#231f20" stroke-width="0.9" />
<line x1="364.92" y1="204.85" x2="364.92" y2="206.65" stroke="#231f20" stroke-width="0.9" />
<line x1="368.81" y1="204.85" x2="368.81" y2="206.65" stroke="#231f20" stroke-width="0.9" />
<line x1="395.24" y1="204.85" x2="395.24" y2="206.65" stroke="#231f20" stroke-width="0.9" />
<line x1="408.66" y1="204.85" x2="408.66" y2="206.65" stroke="#231f20" stroke-width="0.9" />
<line x1="418.18" y1="204.85" x2="418.18" y2="206.65" stroke="#231f20" stroke-width="0.9" />
<line x1="425.56" y1="204.85" x2="425.56" y2="206.65" stroke="#231f20" stroke-width="0.9" />
<line x1="431.60" y1="204.85" x2="431.60" y2="206.65" stroke="#231f20" stroke-width="0.9" />
<line x1="436.70" y1="204.85" x2="436.70" y2="206.65" stroke="#231f20" stroke-width="0.9" />
<line x1="441.12" y1="204.85" x2="441.12" y2="206.65" stroke="#231f20" stroke-width="0.9" />
<line x1="445.01" y1="204.85" x2="445.01" y2="206.65" stroke="#231f20" stroke-width="0.9" />
<line x1="471.44" y1="204.85" x2="471.44" y2="206.65" stroke="#231f20" stroke-width="0.9" />
<line x1="484.86" y1="204.85" x2="484.86" y2="206.65" stroke="#231f20" stroke-width="0.9" />
<line x1="494.38" y1="204.85" x2="494.38" y2="206.65" stroke="#231f20" stroke-width="0.9" />
<line x1="501.76" y1="204.85" x2="501.76" y2="206.65" stroke="#231f20" stroke-width="0.9" />
<line x1="507.80" y1="204.85" x2="507.80" y2="206.65" stroke="#231f20" stroke-width="0.9" />
<line x1="372.30" y1="204.85" x2="372.30" y2="208.45" stroke="#231f20" stroke-width="1" />
<text x="372.30" y="219.80" font-size="9.0" text-anchor="middle" fill="#231f20" >10</text>
<line x1="448.50" y1="204.85" x2="448.50" y2="208.45" stroke="#231f20" stroke-width="1" />
<text x="448.50" y="219.80" font-size="9.0" text-anchor="middle" fill="#231f20" >100</text>
<text x="386.90" y="234.20" font-size="6.6" text-anchor="start" fill="#231f20" textLength="13.90" lengthAdjust="spacingAndGlyphs" stroke="#231f20" stroke-width="0.25">super</text>
<text x="401.40" y="237.80" font-size="10.0" text-anchor="start" fill="#231f20" textLength="31.60" lengthAdjust="spacingAndGlyphs" stroke="#231f20" stroke-width="0.25">FVa (nM)</text>
<text x="277.40" y="129.10" font-size="10.2" text-anchor="start" fill="#231f20" textLength="45.10" lengthAdjust="spacingAndGlyphs" transform="rotate(-90 277.40 129.10)" stroke="#231f20" stroke-width="0.25">ETP (nM.min)</text>
<text x="320.10" y="33.10" font-size="8.6" text-anchor="start" fill="#231f20" textLength="18.20" lengthAdjust="spacingAndGlyphs" >NHP</text>
<line x1="324.40" y1="36.90" x2="324.40" y2="51.00" stroke="#231f20" stroke-width="1.2" />
<line x1="320.50" y1="36.90" x2="328.30" y2="36.90" stroke="#231f20" stroke-width="1.3" />
<line x1="320.50" y1="51.00" x2="328.30" y2="51.00" stroke="#231f20" stroke-width="1.3" />
<polygon points="324.40,40.15 328.20,43.90 324.40,47.65 320.60,43.90" fill="#4a1a6a"/>
<line x1="324.30" y1="131.30" x2="324.30" y2="133.70" stroke="#231f20" stroke-width="1.2" />
<line x1="320.40" y1="131.30" x2="328.20" y2="131.30" stroke="#231f20" stroke-width="1.3" />
<line x1="320.40" y1="133.70" x2="328.20" y2="133.70" stroke="#231f20" stroke-width="1.3" />
<rect x="320.50" y="127.85" width="7.6" height="7.5" fill="#2a4f8f" stroke="#1a3d80" stroke-width="0.6"/>
<line x1="320.40" y1="131.30" x2="328.20" y2="131.30" stroke="#231f20" stroke-width="1.3" />
<line x1="320.40" y1="133.70" x2="328.20" y2="133.70" stroke="#231f20" stroke-width="1.3" />
<line x1="324.30" y1="131.30" x2="324.30" y2="133.70" stroke="#231f20" stroke-width="1.2" />
<line x1="324.30" y1="125.70" x2="340.30" y2="105.72" stroke="#a8022d" stroke-width="1.9" />
<line x1="345.60" y1="99.11" x2="357.70" y2="84.00" stroke="#a8022d" stroke-width="1.9" />
<polyline points="357.70,84.00 380.40,66.80 403.30,69.00 426.10,76.30 449.20,65.80 472.00,67.10 485.30,59.80 495.00,65.40" fill="none" stroke="#a8022d" stroke-width="1.9" stroke-linejoin="round" stroke-linecap="round" />
<line x1="324.30" y1="120.30" x2="324.30" y2="125.70" stroke="#231f20" stroke-width="1.2" />
<line x1="320.40" y1="120.30" x2="328.20" y2="120.30" stroke="#231f20" stroke-width="1.3" />
<line x1="320.40" y1="125.70" x2="328.20" y2="125.70" stroke="#231f20" stroke-width="1.3" />
<line x1="357.70" y1="72.10" x2="357.70" y2="95.80" stroke="#231f20" stroke-width="1.2" />
<line x1="353.80" y1="72.10" x2="361.60" y2="72.10" stroke="#231f20" stroke-width="1.3" />
<line x1="353.80" y1="95.80" x2="361.60" y2="95.80" stroke="#231f20" stroke-width="1.3" />
<line x1="380.40" y1="60.40" x2="380.40" y2="73.40" stroke="#231f20" stroke-width="1.2" />
<line x1="376.50" y1="60.40" x2="384.30" y2="60.40" stroke="#231f20" stroke-width="1.3" />
<line x1="376.50" y1="73.40" x2="384.30" y2="73.40" stroke="#231f20" stroke-width="1.3" />
<line x1="449.20" y1="56.50" x2="449.20" y2="74.60" stroke="#231f20" stroke-width="1.2" />
<line x1="445.30" y1="56.50" x2="453.10" y2="56.50" stroke="#231f20" stroke-width="1.3" />
<line x1="445.30" y1="74.60" x2="453.10" y2="74.60" stroke="#231f20" stroke-width="1.3" />
<line x1="472.00" y1="60.90" x2="472.00" y2="73.10" stroke="#231f20" stroke-width="1.2" />
<line x1="468.10" y1="60.90" x2="475.90" y2="60.90" stroke="#231f20" stroke-width="1.3" />
<line x1="468.10" y1="73.10" x2="475.90" y2="73.10" stroke="#231f20" stroke-width="1.3" />
<line x1="485.30" y1="51.60" x2="485.30" y2="67.60" stroke="#231f20" stroke-width="1.2" />
<line x1="481.40" y1="51.60" x2="489.20" y2="51.60" stroke="#231f20" stroke-width="1.3" />
<line x1="481.40" y1="67.60" x2="489.20" y2="67.60" stroke="#231f20" stroke-width="1.3" />
<line x1="495.00" y1="56.10" x2="495.00" y2="73.80" stroke="#231f20" stroke-width="1.2" />
<line x1="491.10" y1="56.10" x2="498.90" y2="56.10" stroke="#231f20" stroke-width="1.3" />
<line x1="491.10" y1="73.80" x2="498.90" y2="73.80" stroke="#231f20" stroke-width="1.3" />
<circle cx="324.30" cy="125.70" r="4.0" fill="#a8022d"/>
<circle cx="357.70" cy="84.00" r="4.0" fill="#a8022d"/>
<circle cx="380.40" cy="66.80" r="4.0" fill="#a8022d"/>
<circle cx="403.30" cy="69.00" r="4.0" fill="#a8022d"/>
<circle cx="426.10" cy="76.30" r="4.0" fill="#a8022d"/>
<circle cx="449.20" cy="65.80" r="4.0" fill="#a8022d"/>
<circle cx="472.00" cy="67.10" r="4.0" fill="#a8022d"/>
<circle cx="485.30" cy="59.80" r="4.0" fill="#a8022d"/>
<circle cx="495.00" cy="65.40" r="4.0" fill="#a8022d"/>
<line x1="495.00" y1="96.00" x2="495.00" y2="115.80" stroke="#231f20" stroke-width="1.2" />
<line x1="491.00" y1="96.00" x2="499.00" y2="96.00" stroke="#231f20" stroke-width="1.3" />
<line x1="491.00" y1="115.80" x2="499.00" y2="115.80" stroke="#231f20" stroke-width="1.3" />
<polygon points="495.00,102.50 498.95,109.70 491.05,109.70" fill="#62ad36"/>
<text x="416.40" y="36.50" font-size="7.5" text-anchor="start" fill="#231f20" textLength="19.40" lengthAdjust="spacingAndGlyphs" >super</text>
<text x="436.30" y="40.40" font-size="8.2" text-anchor="start" fill="#231f20" textLength="48.20" lengthAdjust="spacingAndGlyphs" >FVa +rhFVIIa</text>
<text x="470.60" y="121.90" font-size="5.9" text-anchor="start" fill="#231f20" textLength="14.00" lengthAdjust="spacingAndGlyphs" >super</text>
<text x="485.20" y="125.80" font-size="7.6" text-anchor="start" fill="#231f20" textLength="13.50" lengthAdjust="spacingAndGlyphs" >FVa</text>
<text x="320.00" y="147.10" font-size="8.3" text-anchor="start" fill="#231f20" textLength="50.70" lengthAdjust="spacingAndGlyphs" >Apixaban only</text>
<text x="267.40" y="270.80" font-size="12.6" text-anchor="start" fill="#000" font-weight="bold" >D</text>
<line x1="311.50" y1="259.00" x2="311.50" y2="456.45" stroke="#231f20" stroke-width="1.4" />
<line x1="308.20" y1="455.30" x2="311.50" y2="455.30" stroke="#231f20" stroke-width="1.2" />
<text x="304.00" y="458.40" font-size="9.0" text-anchor="end" fill="#231f20" >0</text>
<line x1="308.20" y1="422.60" x2="311.50" y2="422.60" stroke="#231f20" stroke-width="1.2" />
<text x="304.00" y="425.70" font-size="9.0" text-anchor="end" fill="#231f20" >500</text>
<line x1="308.20" y1="389.90" x2="311.50" y2="389.90" stroke="#231f20" stroke-width="1.2" />
<text x="304.00" y="393.00" font-size="9.0" text-anchor="end" fill="#231f20" >1000</text>
<line x1="308.20" y1="357.20" x2="311.50" y2="357.20" stroke="#231f20" stroke-width="1.2" />
<text x="304.00" y="360.30" font-size="9.0" text-anchor="end" fill="#231f20" >1500</text>
<line x1="308.20" y1="324.50" x2="311.50" y2="324.50" stroke="#231f20" stroke-width="1.2" />
<text x="304.00" y="327.60" font-size="9.0" text-anchor="end" fill="#231f20" >2000</text>
<line x1="308.20" y1="291.80" x2="311.50" y2="291.80" stroke="#231f20" stroke-width="1.2" />
<text x="304.00" y="294.90" font-size="9.0" text-anchor="end" fill="#231f20" >2500</text>
<line x1="308.00" y1="455.55" x2="340.40" y2="455.55" stroke="#231f20" stroke-width="1.9" />
<line x1="340.40" y1="452.35" x2="340.40" y2="459.35" stroke="#231f20" stroke-width="1.1" />
<line x1="324.40" y1="455.55" x2="324.40" y2="459.15" stroke="#231f20" stroke-width="1" />
<text x="324.40" y="470.50" font-size="9.0" text-anchor="middle" fill="#231f20" >0</text>
<line x1="345.80" y1="455.55" x2="512.20" y2="455.55" stroke="#231f20" stroke-width="1.9" />
<line x1="345.80" y1="452.95" x2="345.80" y2="459.35" stroke="#231f20" stroke-width="1.1" />
<line x1="349.36" y1="455.55" x2="349.36" y2="457.35" stroke="#231f20" stroke-width="0.9" />
<line x1="355.40" y1="455.55" x2="355.40" y2="457.35" stroke="#231f20" stroke-width="0.9" />
<line x1="360.50" y1="455.55" x2="360.50" y2="457.35" stroke="#231f20" stroke-width="0.9" />
<line x1="364.92" y1="455.55" x2="364.92" y2="457.35" stroke="#231f20" stroke-width="0.9" />
<line x1="368.81" y1="455.55" x2="368.81" y2="457.35" stroke="#231f20" stroke-width="0.9" />
<line x1="395.24" y1="455.55" x2="395.24" y2="457.35" stroke="#231f20" stroke-width="0.9" />
<line x1="408.66" y1="455.55" x2="408.66" y2="457.35" stroke="#231f20" stroke-width="0.9" />
<line x1="418.18" y1="455.55" x2="418.18" y2="457.35" stroke="#231f20" stroke-width="0.9" />
<line x1="425.56" y1="455.55" x2="425.56" y2="457.35" stroke="#231f20" stroke-width="0.9" />
<line x1="431.60" y1="455.55" x2="431.60" y2="457.35" stroke="#231f20" stroke-width="0.9" />
<line x1="436.70" y1="455.55" x2="436.70" y2="457.35" stroke="#231f20" stroke-width="0.9" />
<line x1="441.12" y1="455.55" x2="441.12" y2="457.35" stroke="#231f20" stroke-width="0.9" />
<line x1="445.01" y1="455.55" x2="445.01" y2="457.35" stroke="#231f20" stroke-width="0.9" />
<line x1="471.44" y1="455.55" x2="471.44" y2="457.35" stroke="#231f20" stroke-width="0.9" />
<line x1="484.86" y1="455.55" x2="484.86" y2="457.35" stroke="#231f20" stroke-width="0.9" />
<line x1="494.38" y1="455.55" x2="494.38" y2="457.35" stroke="#231f20" stroke-width="0.9" />
<line x1="501.76" y1="455.55" x2="501.76" y2="457.35" stroke="#231f20" stroke-width="0.9" />
<line x1="507.80" y1="455.55" x2="507.80" y2="457.35" stroke="#231f20" stroke-width="0.9" />
<line x1="372.30" y1="455.55" x2="372.30" y2="459.15" stroke="#231f20" stroke-width="1" />
<text x="372.30" y="470.50" font-size="9.0" text-anchor="middle" fill="#231f20" >10</text>
<line x1="448.50" y1="455.55" x2="448.50" y2="459.15" stroke="#231f20" stroke-width="1" />
<text x="448.50" y="470.50" font-size="9.0" text-anchor="middle" fill="#231f20" >100</text>
<text x="386.90" y="482.50" font-size="6.6" text-anchor="start" fill="#231f20" textLength="13.90" lengthAdjust="spacingAndGlyphs" stroke="#231f20" stroke-width="0.25">super</text>
<text x="401.40" y="486.10" font-size="10.0" text-anchor="start" fill="#231f20" textLength="31.60" lengthAdjust="spacingAndGlyphs" stroke="#231f20" stroke-width="0.25">FVa (nM)</text>
<text x="277.40" y="379.80" font-size="10.2" text-anchor="start" fill="#231f20" textLength="45.10" lengthAdjust="spacingAndGlyphs" transform="rotate(-90 277.40 379.80)" stroke="#231f20" stroke-width="0.25">ETP (nM.min)</text>
<text x="320.00" y="272.00" font-size="8.6" text-anchor="start" fill="#231f20" textLength="18.40" lengthAdjust="spacingAndGlyphs" >NHP</text>
<line x1="324.40" y1="276.50" x2="324.40" y2="304.60" stroke="#231f20" stroke-width="1.2" />
<line x1="320.50" y1="276.50" x2="328.30" y2="276.50" stroke="#231f20" stroke-width="1.3" />
<line x1="320.50" y1="304.60" x2="328.30" y2="304.60" stroke="#231f20" stroke-width="1.3" />
<polygon points="324.40,287.05 328.20,290.80 324.40,294.55 320.60,290.80" fill="#4a1a6a"/>
<line x1="324.30" y1="380.50" x2="324.30" y2="395.70" stroke="#231f20" stroke-width="1.2" />
<line x1="320.40" y1="380.50" x2="328.20" y2="380.50" stroke="#231f20" stroke-width="1.3" />
<line x1="320.40" y1="395.70" x2="328.20" y2="395.70" stroke="#231f20" stroke-width="1.3" />
<rect x="320.50" y="384.35" width="7.6" height="7.5" fill="#2a4f8f" stroke="#1a3d80" stroke-width="0.6"/>
<line x1="324.10" y1="371.70" x2="340.30" y2="359.57" stroke="#a8022d" stroke-width="1.9" />
<line x1="345.60" y1="355.61" x2="357.50" y2="346.70" stroke="#a8022d" stroke-width="1.9" />
<polyline points="357.50,346.70 380.70,332.70 403.30,328.80 426.10,316.40 449.10,323.00 471.90,325.40 485.60,311.50 495.10,323.70" fill="none" stroke="#a8022d" stroke-width="1.9" stroke-linejoin="round" stroke-linecap="round" />
<line x1="324.10" y1="366.80" x2="324.10" y2="376.20" stroke="#231f20" stroke-width="1.2" />
<line x1="320.20" y1="366.80" x2="328.00" y2="366.80" stroke="#231f20" stroke-width="1.3" />
<line x1="320.20" y1="376.20" x2="328.00" y2="376.20" stroke="#231f20" stroke-width="1.3" />
<line x1="380.70" y1="326.50" x2="380.70" y2="338.60" stroke="#231f20" stroke-width="1.2" />
<line x1="376.80" y1="326.50" x2="384.60" y2="326.50" stroke="#231f20" stroke-width="1.3" />
<line x1="376.80" y1="338.60" x2="384.60" y2="338.60" stroke="#231f20" stroke-width="1.3" />
<line x1="403.30" y1="323.20" x2="403.30" y2="334.30" stroke="#231f20" stroke-width="1.2" />
<line x1="399.40" y1="323.20" x2="407.20" y2="323.20" stroke="#231f20" stroke-width="1.3" />
<line x1="399.40" y1="334.30" x2="407.20" y2="334.30" stroke="#231f20" stroke-width="1.3" />
<line x1="426.10" y1="309.30" x2="426.10" y2="323.70" stroke="#231f20" stroke-width="1.2" />
<line x1="422.20" y1="309.30" x2="430.00" y2="309.30" stroke="#231f20" stroke-width="1.3" />
<line x1="422.20" y1="323.70" x2="430.00" y2="323.70" stroke="#231f20" stroke-width="1.3" />
<line x1="449.10" y1="318.10" x2="449.10" y2="327.40" stroke="#231f20" stroke-width="1.2" />
<line x1="445.20" y1="318.10" x2="453.00" y2="318.10" stroke="#231f20" stroke-width="1.3" />
<line x1="445.20" y1="327.40" x2="453.00" y2="327.40" stroke="#231f20" stroke-width="1.3" />
<line x1="471.90" y1="319.90" x2="471.90" y2="330.80" stroke="#231f20" stroke-width="1.2" />
<line x1="468.00" y1="319.90" x2="475.80" y2="319.90" stroke="#231f20" stroke-width="1.3" />
<line x1="468.00" y1="330.80" x2="475.80" y2="330.80" stroke="#231f20" stroke-width="1.3" />
<line x1="485.60" y1="306.00" x2="485.60" y2="317.00" stroke="#231f20" stroke-width="1.2" />
<line x1="481.70" y1="306.00" x2="489.50" y2="306.00" stroke="#231f20" stroke-width="1.3" />
<line x1="481.70" y1="317.00" x2="489.50" y2="317.00" stroke="#231f20" stroke-width="1.3" />
<line x1="495.10" y1="317.00" x2="495.10" y2="329.20" stroke="#231f20" stroke-width="1.2" />
<line x1="491.20" y1="317.00" x2="499.00" y2="317.00" stroke="#231f20" stroke-width="1.3" />
<line x1="491.20" y1="329.20" x2="499.00" y2="329.20" stroke="#231f20" stroke-width="1.3" />
<circle cx="324.10" cy="371.70" r="4.0" fill="#a8022d"/>
<circle cx="357.50" cy="346.70" r="4.0" fill="#a8022d"/>
<circle cx="380.70" cy="332.70" r="4.0" fill="#a8022d"/>
<circle cx="403.30" cy="328.80" r="4.0" fill="#a8022d"/>
<circle cx="426.10" cy="316.40" r="4.0" fill="#a8022d"/>
<circle cx="449.10" cy="323.00" r="4.0" fill="#a8022d"/>
<circle cx="471.90" cy="325.40" r="4.0" fill="#a8022d"/>
<circle cx="485.60" cy="311.50" r="4.0" fill="#a8022d"/>
<circle cx="495.10" cy="323.70" r="4.0" fill="#a8022d"/>
<polygon points="495.00,359.90 498.95,367.10 491.05,367.10" fill="#62ad36"/>
<text x="416.40" y="293.90" font-size="7.5" text-anchor="start" fill="#231f20" textLength="19.40" lengthAdjust="spacingAndGlyphs" >super</text>
<text x="436.30" y="297.80" font-size="8.2" text-anchor="start" fill="#231f20" textLength="48.20" lengthAdjust="spacingAndGlyphs" >FVa +rhFVIIa</text>
<text x="470.60" y="375.10" font-size="5.9" text-anchor="start" fill="#231f20" textLength="14.00" lengthAdjust="spacingAndGlyphs" >super</text>
<text x="485.20" y="379.00" font-size="7.6" text-anchor="start" fill="#231f20" textLength="13.50" lengthAdjust="spacingAndGlyphs" >FVa</text>
<text x="320.00" y="409.30" font-size="8.3" text-anchor="start" fill="#231f20" textLength="60.70" lengthAdjust="spacingAndGlyphs" >Rivaroxaban only</text>
<rect x="0.6" y="0.7" width="518.6" height="495.5" fill="none" stroke="#000" stroke-width="1.6"/>
</svg>
</body></html>
